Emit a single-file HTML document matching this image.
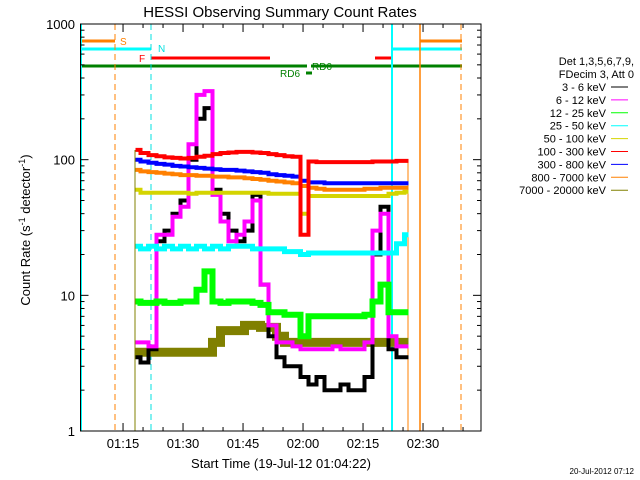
<!DOCTYPE html>
<html><head><meta charset="utf-8"><style>
body{margin:0;background:#fff;}
svg{display:block;font-family:"Liberation Sans",sans-serif;}
</style></head><body>
<svg id="chart" width="640" height="480" viewBox="0 0 640 480">
<rect width="640" height="480" fill="#fff"/>
<text x="280" y="17" font-size="15" text-anchor="middle">HESSI Observing Summary Count Rates</text>
<g id="annot">
<line x1="81" y1="41" x2="115" y2="41" stroke="#ff8000" stroke-width="3"/>
<text x="120" y="45" font-size="10" fill="#ff8000">S</text>
<line x1="420" y1="41" x2="462" y2="41" stroke="#ff8000" stroke-width="3"/>
<line x1="81" y1="49" x2="151" y2="49" stroke="#00ffff" stroke-width="3"/>
<line x1="392" y1="49" x2="462" y2="49" stroke="#00ffff" stroke-width="3"/>
<text x="158" y="52" font-size="10" fill="#00e0e0">N</text>
<text x="139" y="62" font-size="10" fill="#ff0000">F</text>
<line x1="151" y1="58" x2="270" y2="58" stroke="#ff0000" stroke-width="3"/>
<line x1="375" y1="58" x2="392" y2="58" stroke="#ff0000" stroke-width="3"/>
<line x1="81" y1="66" x2="307" y2="66" stroke="#008000" stroke-width="3"/>
<line x1="311" y1="66" x2="462" y2="66" stroke="#008000" stroke-width="3"/>
<text x="312" y="70" font-size="10" fill="#008000">RD0</text>
<text x="280" y="77" font-size="10" fill="#008000">RD6</text>
<line x1="306" y1="73" x2="312" y2="73" stroke="#008000" stroke-width="3"/>
</g>
<g id="vlines">
<line x1="81" y1="24" x2="81" y2="431" stroke="#00ffff" stroke-width="2"/>
<line x1="115" y1="24" x2="115" y2="431" stroke="#ff8000" stroke-dasharray="6,4"/>
<line x1="151" y1="24" x2="151" y2="431" stroke="#00e0e0" stroke-dasharray="6,4"/>
<line x1="392" y1="24" x2="392" y2="431" stroke="#00ffff" stroke-width="2"/>
<line x1="420" y1="24" x2="420" y2="431" stroke="#ff8000" stroke-width="1.5"/>
<line x1="461" y1="24" x2="461" y2="431" stroke="#ff8000" stroke-dasharray="6,4"/>
<line x1="135" y1="150" x2="135" y2="431" stroke="#808000" stroke-width="1"/>
<line x1="408" y1="160" x2="408" y2="431" stroke="#ff8000" stroke-width="1"/>
</g>
<g id="series"></g>
<g id="axes"></g>
<g font-size="11">
<text x="634" y="65" text-anchor="end">Det 1,3,5,6,7,9,</text>
<text x="634" y="78" text-anchor="end">FDecim 3, Att 0</text>
</g>
<g id="legend"></g>
<text x="30" y="230" font-size="13" text-anchor="middle" transform="rotate(-90 30 230)">Count Rate (s<tspan font-size="9" dy="-5">-1</tspan><tspan dy="5"> detector</tspan><tspan font-size="9" dy="-5">-1</tspan><tspan dy="5">)</tspan></text>
<text x="281" y="468" font-size="13" text-anchor="middle">Start Time (19-Jul-12 01:04:22)</text>
<text x="634" y="474" font-size="8" text-anchor="end">20-Jul-2012 07:12</text>
</svg>
<script>
const bandLabels=["3 - 6 keV","6 - 12 keV","12 - 25 keV","25 - 50 keV","50 - 100 keV","100 - 300 keV","300 - 800 keV","800 - 7000 keV","7000 - 20000 keV"];
const bandColors=["#000000","#ff00ff","#00ff00","#00ffff","#d4d400","#ff0000","#0000ff","#ff8000","#808000"];
const times=[14,16,18,20,22,24,26,28,30,32,34,36,38,40,42,44,46,48,50,52,54,56,58,60,62,64,66,68,70,72,74,76,78,80,82];
const black=[3.5,3.2,4,25,30,40,50,100,200,240,60,40,30,25,30,55,12,5,3.5,3,3,2.5,2.2,2.5,2,2,2.2,2,2,2.5,20,45,4,3.5,3.5];
const magenta=[4.5,4.5,4.2,28,28,38,45,130,300,320,55,35,25,28,35,50,12,6,4.5,4.5,4.2,4,4,4,4,4.2,4,4,4,4.5,30,40,5,4.2,4.2];
const green=[9,8.8,8.8,9,8.8,8.8,9,9,11,15,9,8.8,9,9,9,8.8,8.5,7.5,7.5,7.2,7.2,5,7,7,7,7,7,7,7,7.2,9,12,7.5,7.5,7.5];
const cyan=[23,22,23,22,23,22,23,22,23,22,23,22,23,23,23,22,22,22,22,21,21,20,20.5,20.5,20.5,20.5,20.5,20.5,20.5,20.5,20.5,20.5,20.5,24,28];
const yellow=[60,57,57,57,57,57,57,56,57,57,57,57,57,57,57,57,57,56,56,56,56,40,54,54,54,54,54,54,54,54,54,54,56,57,58];
const red=[118,112,108,106,104,103,102,103,105,107,110,112,113,114,114,113,112,110,108,106,105,28,97,96,96,96,96,96,96,96,97,97,97,98,98];
const blue=[100,97,95,93,92,90,89,88,87,86,85,84,84,83,82,81,80,78,77,76,75,70,68,68,67,67,67,67,67,67,67,67,67,67,67];
const orange=[84,82,81,80,79,78,77,77,76,76,75,75,74,74,73,72,71,70,69,68,67,64,62,61,60,60,60,60,60,61,61,62,62,62,62];
const olive=[3.8,3.8,3.8,3.8,3.8,3.8,3.8,3.8,3.8,3.8,4.5,5.5,5.5,5.5,6,6,5.8,5.8,5,4.5,4.5,4.5,4.5,4.5,4.5,4.5,4.5,4.5,4.5,4.5,4.5,4.5,4.5,4.5,4.5];
const yTickLabels=["1","10","100","1000"];
const xTickLabels=["01:15","01:30","01:45","02:00","02:15","02:30"];
const NS="http://www.w3.org/2000/svg";
const X0=80.5,Y0=431,YTOP=24;
function xs(t){return X0+4*t;}
function ys(v){return Y0-(Y0-YTOP)/3*Math.log10(v);}
function mk(tag,attrs,parent){const e=document.createElementNS(NS,tag);for(const k in attrs)e.setAttribute(k,attrs[k]);parent.appendChild(e);return e;}
const allSeries=[olive,black,magenta,green,cyan,yellow,orange,blue,red];
const order=[8,0,1,2,3,4,7,6,5];
const widths=[9,4,4,6,5,4,4,4,4];
const sg=document.getElementById('series');
allSeries.forEach((arr,i)=>{
  const b=order[i];
  const xStart=xs(times[0])-1, xEnd=xs(times[times.length-1]);
  let d="";
  for(let k=0;k<arr.length;k++){
    const xa=k===0?xStart:xs(times[k])-4, xb=k===arr.length-1?xEnd:xs(times[k])+4;
    const y=ys(arr[k]).toFixed(1);
    d+=(k===0?"M":" L")+xa+","+y+" L"+xb+","+y;
  }
  const p=mk('path',{d:d,fill:'none',stroke:bandColors[b],'stroke-width':widths[i],'stroke-linejoin':'miter'},sg);
  
  
});
const ag=document.getElementById('axes');
const frame=mk('rect',{x:X0,y:YTOP,width:400.5,height:Y0-YTOP,fill:'none',stroke:'#000','stroke-width':1},ag);


const XR=481;
for(let d=0;d<3;d++){
  for(let m=1;m<10;m++){
    const y=ys(Math.pow(10,d)*m);
    const len=m===1?8:4;
    const l1=mk('line',{x1:X0,x2:X0+len,y1:y,y2:y,stroke:'#000'},ag);
    
    
    const l2=mk('line',{x1:XR-len,x2:XR,y1:y,y2:y,stroke:'#000'},ag);
    
    
  }
}
yTickLabels.forEach((s,i)=>{
  const t=mk('text',{x:75,y:ys(Math.pow(10,i))+5,'font-size':13,'text-anchor':'end'},ag);
  t.textContent=s;
  
  
});
for(let m=0;m<=20;m++){
  const t=(75+5*m)-64-22/60;
  const x=xs(t); if(x<X0||x>XR)continue;
  const major=(m%3===0);const len=major?8:4;
  const a=mk('line',{x1:x,x2:x,y1:Y0,y2:Y0-len,stroke:'#000'},ag);
  
  
  const b=mk('line',{x1:x,x2:x,y1:YTOP,y2:YTOP+len,stroke:'#000'},ag);
  
  
}
xTickLabels.forEach((s,i)=>{
  const t=75+15*i-64-22/60;
  const e=mk('text',{x:xs(t),y:448,'font-size':13,'text-anchor':'middle'},ag);
  e.textContent=s;
  
  
});
const lg=document.getElementById('legend');
bandLabels.forEach((s,i)=>{
  const y=87+12.9*i;
  const t=mk('text',{x:606,y:y+4,'font-size':11,'text-anchor':'end'},lg);
  t.textContent=s;
  
  
  const l=mk('line',{x1:611,x2:628,y1:y,y2:y,stroke:bandColors[i]},lg);
  
  
});
</script>
</body></html>
